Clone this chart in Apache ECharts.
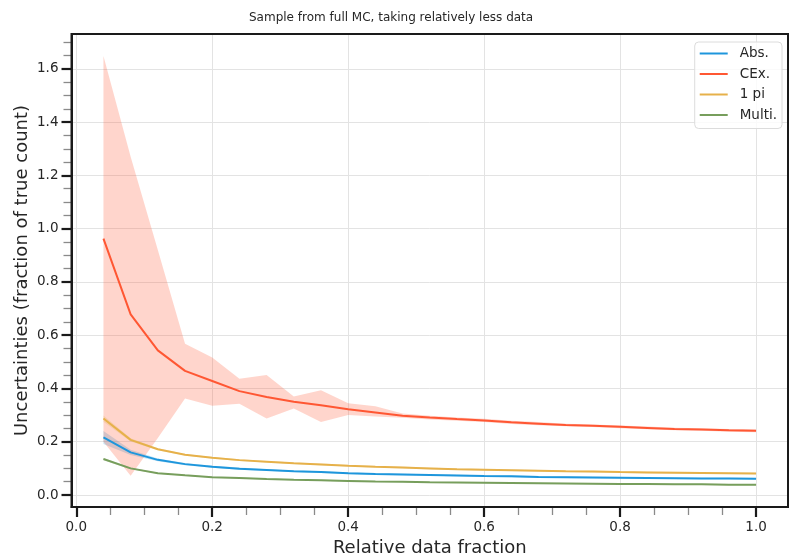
<!DOCTYPE html>
<html>
<head>
<meta charset="utf-8">
<script src="https://cdn.jsdelivr.net/npm/echarts@6/dist/echarts.min.js"></script>
<style>
html,body{margin:0;padding:0;background:#fff;}
#chart{width:789px;height:556px;}
</style>
</head>
<body>
<div id="chart"></div>
<script>
// ---- data ----
const titleText = 'Sample from full MC, taking relatively less data';
const xLabel = 'Relative data fraction';
const yLabel = 'Uncertainties (fraction of true count)';
const seriesNames = ['Abs.', 'CEx.', '1 pi', 'Multi.'];

const xFrac = [0.04,0.08,0.12,0.16,0.20,0.24,0.28,0.32,0.36,0.40,0.44,0.48,0.52,0.56,0.60,0.64,0.68,0.72,0.76,0.80,0.84,0.88,0.92,0.96,1.00];

const absMean  = [0.216,0.160,0.132,0.116,0.106,0.099,0.094,0.089,0.086,0.082,0.079,0.077,0.075,0.073,0.071,0.070,0.068,0.067,0.066,0.065,0.064,0.063,0.062,0.062,0.061];
const absLow   = [0.192,0.150,0.127,0.112,0.102,0.095,0.091,0.086,0.083,0.079,0.076,0.074,0.072,0.070,0.068,0.067,0.065,0.064,0.063,0.062,0.061,0.060,0.059,0.059,0.058];
const absHigh  = [0.240,0.170,0.137,0.120,0.110,0.103,0.097,0.092,0.089,0.085,0.082,0.080,0.078,0.076,0.074,0.073,0.071,0.070,0.069,0.068,0.067,0.066,0.065,0.065,0.064];

const cexMean  = [0.963,0.678,0.543,0.466,0.428,0.390,0.368,0.350,0.337,0.322,0.310,0.298,0.291,0.285,0.280,0.273,0.268,0.263,0.260,0.256,0.252,0.248,0.246,0.243,0.241];
const cexLow   = [0.200,0.072,0.214,0.362,0.335,0.343,0.287,0.325,0.274,0.300,0.295,0.290,0.284,0.279,0.274,0.267,0.262,0.258,0.255,0.251,0.247,0.243,0.241,0.238,0.236];
const cexHigh  = [1.648,1.270,0.920,0.568,0.516,0.437,0.451,0.370,0.393,0.345,0.333,0.306,0.298,0.291,0.286,0.279,0.274,0.268,0.265,0.261,0.257,0.253,0.251,0.248,0.246];

const piMean   = [0.287,0.207,0.172,0.151,0.140,0.131,0.125,0.119,0.115,0.110,0.106,0.103,0.100,0.097,0.095,0.093,0.091,0.089,0.088,0.086,0.085,0.084,0.083,0.082,0.081];
const piLow    = [0.275,0.201,0.168,0.148,0.137,0.128,0.122,0.116,0.112,0.107,0.103,0.100,0.097,0.094,0.092,0.090,0.088,0.086,0.085,0.083,0.082,0.081,0.080,0.079,0.078];
const piHigh   = [0.299,0.213,0.176,0.154,0.143,0.134,0.128,0.122,0.118,0.113,0.109,0.106,0.103,0.100,0.098,0.096,0.094,0.092,0.091,0.089,0.088,0.087,0.086,0.085,0.084];

const multiMean= [0.135,0.100,0.082,0.074,0.067,0.064,0.060,0.057,0.055,0.053,0.051,0.050,0.048,0.047,0.046,0.045,0.044,0.043,0.042,0.041,0.041,0.040,0.040,0.039,0.039];
const multiLow = [0.131,0.097,0.080,0.072,0.065,0.062,0.058,0.055,0.053,0.051,0.049,0.048,0.046,0.045,0.044,0.043,0.042,0.041,0.040,0.039,0.039,0.038,0.038,0.037,0.037];
const multiHigh= [0.139,0.103,0.084,0.076,0.069,0.066,0.062,0.059,0.057,0.055,0.053,0.052,0.050,0.049,0.048,0.047,0.046,0.045,0.044,0.043,0.043,0.042,0.042,0.041,0.041];

const xMajorTicks = [0.0,0.2,0.4,0.6,0.8,1.0];
const xMinorTicks = [0.05,0.1,0.15,0.25,0.3,0.35,0.45,0.5,0.55,0.65,0.7,0.75,0.85,0.9,0.95];
const yMajorTicks = [0.0,0.2,0.4,0.6,0.8,1.0,1.2,1.4,1.6];
const yMinorTicks = [0.05,0.1,0.15,0.25,0.3,0.35,0.45,0.5,0.55,0.65,0.7,0.75,0.85,0.9,0.95,1.05,1.1,1.15,1.25,1.3,1.35,1.45,1.5,1.55,1.65,1.7];

// ---- style ----
const colors = ['#1E96DC', '#FF5733', '#E6B14A', '#779E5C'];
const bandAlpha = 0.25;
const FONT = 'DejaVu Sans';
const TXT = '#262626';

function pairs(ys){ return xFrac.map((x,i)=>[x, ys[i]]); }
function hexA(hex, a){
  const r=parseInt(hex.slice(1,3),16), g=parseInt(hex.slice(3,5),16), b=parseInt(hex.slice(5,7),16);
  return 'rgba('+r+','+g+','+b+','+a+')';
}

const groups = [
  [absMean, absLow, absHigh],
  [cexMean, cexLow, cexHigh],
  [piMean, piLow, piHigh],
  [multiMean, multiLow, multiHigh]
];

const series = [];
groups.forEach((g, k) => {
  const [mean, low, high] = g;
  const rows = xFrac.map((x,i)=>[x, low[i], high[i]]);
  series.push({
    type:'custom', name:'band_'+k, silent:true, z:1,
    xAxisIndex:0, yAxisIndex:0,
    data: rows,
    encode:{x:0, y:[1,2]},
    renderItem:function(params, api){
      if (params.dataIndex !== 0) return null;
      const pts = [];
      for (let i=0;i<rows.length;i++) pts.push(api.coord([rows[i][0], rows[i][2]]));
      for (let i=rows.length-1;i>=0;i--) pts.push(api.coord([rows[i][0], rows[i][1]]));
      return {
        type:'polygon',
        shape:{points:pts},
        style:{fill:hexA(colors[k], bandAlpha), stroke:null}
      };
    }
  });
});
groups.forEach((g, k) => {
  series.push({
    type:'line', name:seriesNames[k], data:pairs(g[0]), symbol:'none',
    lineStyle:{color:colors[k], width:2}, itemStyle:{color:colors[k]}, z:3,
    xAxisIndex:0, yAxisIndex:0
  });
});

const X_MIN = -0.007, X_MAX = 1.047, Y_MIN = -0.045, Y_MAX = 1.731;

const option = {
  animation:false,
  backgroundColor:'#ffffff',
  textStyle:{fontFamily:FONT},
  title:{
    text:titleText, left:244, top:7,
    textStyle:{fontSize:12, fontWeight:'normal', color:TXT, fontFamily:FONT}
  },
  legend:{
    data:seriesNames, orient:'vertical', right:7, top:42,
    icon:'rect', itemWidth:28, itemHeight:2, itemGap:5.5,
    padding:[4,5,6,5],
    backgroundColor:'rgba(255,255,255,0.8)', borderColor:'#dcdcdc', borderWidth:1, borderRadius:4,
    textStyle:{fontSize:13.5, color:TXT, fontFamily:FONT, lineHeight:15, padding:[0,0,0,7]}
  },
  grid:{
    left:71.5, right:1, top:34, bottom:49, containLabel:false, outerBoundsMode:'none',
    show:true, borderColor:'#1a1a1a', borderWidth:2, backgroundColor:'transparent', z:5
  },
  xAxis:[{
    type:'value', min:X_MIN, max:X_MAX, position:'bottom',
    name:xLabel, nameLocation:'middle', nameGap:29,
    nameTextStyle:{fontSize:18, color:TXT, fontFamily:FONT},
    axisLine:{show:true, onZero:false, lineStyle:{color:'#1a1a1a', width:2}},
    axisTick:{show:true, customValues:xMajorTicks, length:10, lineStyle:{color:'#1a1a1a', width:2.2}},
    axisLabel:{show:true, customValues:xMajorTicks, margin:13, fontSize:13.5, color:TXT, fontFamily:FONT,
      formatter:v=>Number(v).toFixed(1)},
    splitLine:{show:true, lineStyle:{color:'#e3e3e3', width:1}}
  },{
    type:'value', min:X_MIN, max:X_MAX, position:'bottom', gridIndex:0, offset:0,
    axisLine:{show:false, onZero:false},
    axisTick:{show:true, customValues:xMinorTicks, length:8, lineStyle:{color:'#8a8a8a', width:1.3}},
    axisLabel:{show:false}, splitLine:{show:false}
  }],
  yAxis:[{
    type:'value', min:Y_MIN, max:Y_MAX, position:'left',
    name:yLabel, nameLocation:'middle', nameGap:40, nameMoveOverlap:false,
    nameTextStyle:{fontSize:18, color:TXT, fontFamily:FONT},
    axisLine:{show:true, onZero:false, lineStyle:{color:'#1a1a1a', width:2}},
    axisTick:{show:true, customValues:yMajorTicks, length:10, lineStyle:{color:'#1a1a1a', width:2.2}},
    axisLabel:{show:true, customValues:yMajorTicks, margin:13, fontSize:13.5, color:TXT, fontFamily:FONT,
      formatter:v=>Number(v).toFixed(1)},
    splitLine:{show:true, lineStyle:{color:'#e3e3e3', width:1}}
  },{
    type:'value', min:Y_MIN, max:Y_MAX, position:'left', gridIndex:0, offset:0,
    axisLine:{show:false, onZero:false},
    axisTick:{show:true, customValues:yMinorTicks, length:8, lineStyle:{color:'#8a8a8a', width:1.3}},
    axisLabel:{show:false}, splitLine:{show:false}
  }],
  series:series
};

const chart = echarts.init(document.getElementById('chart'), null, {renderer:'canvas'});
chart.setOption(option);
</script>
</body>
</html>
